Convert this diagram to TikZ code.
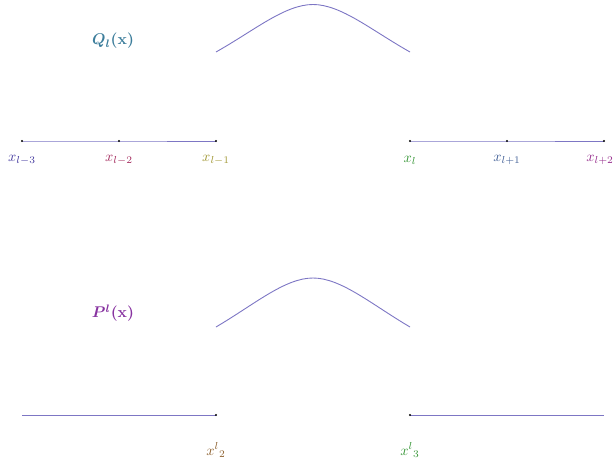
\documentclass[tikz,border=0pt]{standalone}
\usepackage{amsmath,amssymb}
\usepackage{tikz}
\usetikzlibrary{calc}

\definecolor{linec}{RGB}{125,118,196}
\definecolor{cA}{RGB}{70,60,160}
\definecolor{cB}{RGB}{165,45,95}
\definecolor{cC}{RGB}{160,150,50}
\definecolor{cD}{RGB}{55,150,55}
\definecolor{cE}{RGB}{65,95,150}
\definecolor{cF}{RGB}{150,45,140}
\definecolor{cQ}{RGB}{60,125,155}
\definecolor{cP}{RGB}{135,50,160}
\definecolor{cG}{RGB}{140,95,45}

\begin{document}
\begin{tikzpicture}[x=1pt,y=-1pt,
  seg/.style={linec,line width=0.8pt},
  bump/.style={linec,line width=0.9pt},
  dotpt/.style={fill=black},
  lbl/.style={scale=1.45,inner sep=0pt},
  title/.style={scale=1.55,inner sep=0pt}]
  \useasboundingbox (0,0) rectangle (615,466);

  % upper row: grid points
  \coordinate (a3) at (22,141);
  \coordinate (a2) at (119,141);
  \coordinate (a1) at (216,141);
  \coordinate (b0) at (410,141);
  \coordinate (b1) at (507,141);
  \coordinate (b2) at (604,141);
  \draw[seg] (a3) -- (a2) -- (a1);
  \draw[seg] (b0) -- (b1) -- (b2);
  \foreach \p in {a3,a2,a1,b0,b1,b2} \fill[dotpt] (\p) circle (1.1pt);
  \node[lbl,text=cA] (la3) at ($(a3)+(0,19)$) {$x_{l-3}$};
  \node[lbl,text=cB] (la2) at ($(a2)+(0,19)$) {$x_{l-2}$};
  \node[lbl,text=cC] (la1) at ($(a1)+(0,19)$) {$x_{l-1}$};
  \node[lbl,text=cD] (lb0) at ($(b0)+(0,19)$) {$x_{l}$};
  \node[lbl,text=cE] (lb1) at ($(b1)+(0,19)$) {$x_{l+1}$};
  \node[lbl,text=cF] (lb2) at ($(b2)+(-4,19)$) {$x_{l+2}$};
  % bump of Q
  \coordinate (qs) at (216,52);
  \coordinate (qt) at (313,4.5);
  \coordinate (qe) at (410,52);
  \draw[bump] (qs) .. controls ($(qs)+(39,-22)$) and ($(qt)+(-28,0)$) .. (qt)
    .. controls ($(qt)+(28,0)$) and ($(qe)+(-39,-22)$) .. (qe);
  \node[title,text=cQ] (qlab) at (113,41) {$\boldsymbol{Q_l}$\textbf{(x)}};

  % lower row
  \coordinate (c0) at (22,415);
  \coordinate (c2) at (216,415);
  \coordinate (c3) at (410,415);
  \coordinate (c5) at (604,415);
  \draw[seg] (c0) -- (c2);
  \draw[seg] (c3) -- (c5);
  \foreach \p in {c2,c3} \fill[dotpt] (\p) circle (1.1pt);
  \node[lbl,text=cG] (lc2) at ($(c2)+(0,35)$) {${x^{l}}_{2}$};
  \node[lbl,text=cD] (lc3) at ($(c3)+(0,35)$) {${x^{l}}_{3}$};
  % bump of P
  \coordinate (ps) at (216,327);
  \coordinate (pt) at (313,278);
  \coordinate (pe) at (410,327);
  \draw[bump] (ps) .. controls ($(ps)+(39,-23)$) and ($(pt)+(-28,0)$) .. (pt)
    .. controls ($(pt)+(28,0)$) and ($(pe)+(-39,-23)$) .. (pe);
  \node[title,text=cP] (plab) at (113,313) {$\boldsymbol{P^l}$\textbf{(x)}};
\end{tikzpicture}
\end{document}
